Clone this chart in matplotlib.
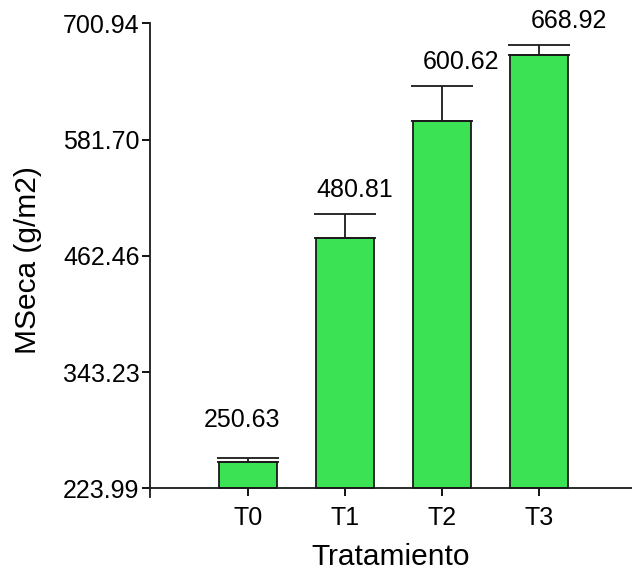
import matplotlib
matplotlib.use("Agg")
import matplotlib.pyplot as plt
import numpy as np

plt.rcParams['font.family'] = ['Liberation Sans', 'DejaVu Sans']

# mean dry matter per treatment and the upper error
tratamientos = ['T0', 'T1', 'T2', 'T3']
mseca = [250.63, 480.81, 600.62, 668.92]
error = [4.1, 24.5, 35.7, 10.0]
yticks = [223.99, 343.23, 462.46, 581.70, 700.94]

# label offsets (pixels) above the error caps
lab_dx = [-6, 10, 19, 30]
lab_dy = [38, 24, 24, 24]

base = yticks[0]
x = np.arange(len(tratamientos))

fig = plt.figure(figsize=(6.32, 5.74), dpi=100)
ax = fig.add_axes([0.2373, 0.1341, 0.7627, 0.8253])

ax.bar(x, np.array(mseca) - base, bottom=base, width=0.6,
       color='#3BE354', edgecolor='#1a1a1a', linewidth=1.3, zorder=2)
ax.errorbar(x, mseca, yerr=[np.zeros(len(mseca)), error], fmt='none',
            ecolor='#1a1a1a', elinewidth=1.3, capsize=22, capthick=1.3, zorder=3)

for i, v in enumerate(mseca):
    ax.annotate(f'{v:.2f}', xy=(x[i], v + error[i]),
                xytext=(lab_dx[i] * 0.72, lab_dy[i] * 0.72), textcoords='offset points',
                ha='center', va='center', fontsize=18)

ax.set_xlim(-1.0155, 3.964)
ax.set_ylim(base - 8.9, yticks[-1])
ax.set_yticks(yticks)
ax.set_yticklabels([f'{t:.2f}' for t in yticks])
ax.set_xticks(x)
ax.set_xticklabels(tratamientos)

ax.spines['top'].set_visible(False)
ax.spines['right'].set_visible(False)
ax.spines['bottom'].set_position(('data', base))
for s in ('left', 'bottom'):
    ax.spines[s].set_linewidth(1.3)
    ax.spines[s].set_color('#1a1a1a')

ax.tick_params(axis='y', length=6, width=1.3, pad=1.5, labelsize=18)
ax.tick_params(axis='x', length=6, width=1.3, pad=7, labelsize=18)

ax.set_xlabel('Tratamiento', fontsize=21.5, labelpad=9)
ax.set_ylabel('MSeca (g/m2)', fontsize=21.5, labelpad=15)

fig.savefig('out.png', dpi=100)
